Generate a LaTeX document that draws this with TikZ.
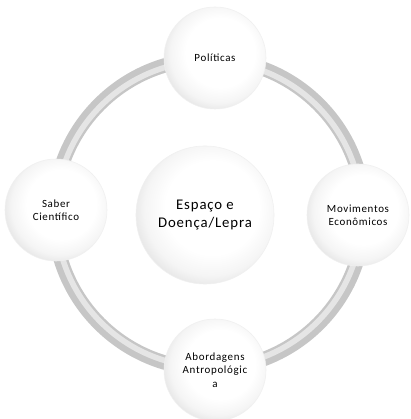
\documentclass[tikz,border=0pt]{standalone}
\usepackage{fontspec}
\setmainfont{Carlito}
\usepackage{tikz}

\pgfdeclareradialshading{bolha}{\pgfpoint{4bp}{4bp}}{%
  color(0bp)=(white); color(17bp)=(white); color(24bp)=(gray!8);
  color(29bp)=(gray!22); color(33bp)=(gray!35); color(50bp)=(gray!35)}

\tikzset{
  bola/.style={circle,minimum size=#1,inner sep=0pt,align=center,
    draw=gray!12,line width=0.4pt,shading=bolha},
  rotulo/.style={font=\fontsize{7.8}{9.5}\selectfont\addfontfeature{LetterSpace=6}},
}

\begin{document}
\begin{tikzpicture}[x=0.025cm,y=0.025cm]
  \useasboundingbox (0,0) rectangle (411,419);
  \fill[white] (0,0) rectangle (411,419);
  % anel
  \draw[gray!45,line width=0.36cm] (209,205) circle [radius=155];
  \draw[gray!20,line width=0.14cm] (209,205) circle [radius=153];
  % bolas
  \node[bola=2.55cm] (pol) at (215,361) {};
  \node[bola=2.55cm] (sab) at (56,209) {};
  \node[bola=2.55cm] (mov) at (358,204) {};
  \node[bola=2.55cm] (abo) at (215,49) {};
  \node[bola=3.45cm] (centro) at (205,204) {};
  % textos
  \node[rotulo] at (pol) {Políticas};
  \node[rotulo,align=center] at (sab) {Saber\\Científico};
  \node[rotulo,align=center] at (mov) {Movimentos\\Econômicos};
  \node[rotulo,align=center] at (abo) {Abordagens\\Antropológic\\a};
  \node[font=\fontsize{10.5}{13}\selectfont\addfontfeature{LetterSpace=6},align=center] at (centro) {Espaço e\\Doença/Lepra};
\end{tikzpicture}
\end{document}
